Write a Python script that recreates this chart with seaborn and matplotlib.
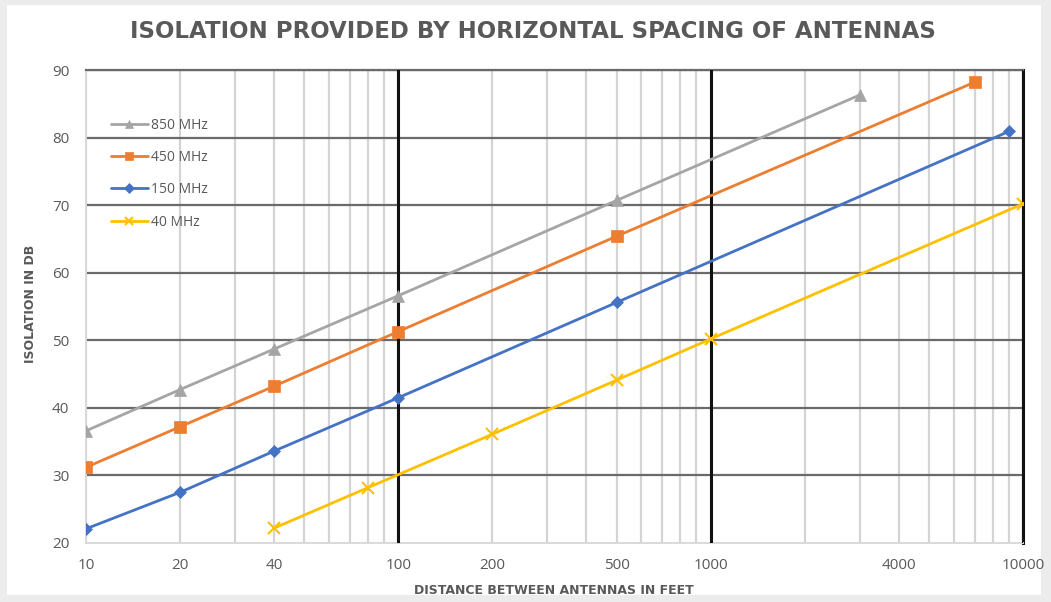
import pandas as pd
import numpy as np
import matplotlib.pyplot as plt
import matplotlib.ticker as mticker
from matplotlib.patches import Rectangle
import seaborn as sns

# data (distance in feet, isolation in dB)
dist_850 = [10, 20, 40, 100, 500, 3000]
iso_850 = [36.6, 42.7, 48.7, 56.6, 70.7, 86.3]

dist_450 = [10, 20, 40, 100, 500, 7000]
iso_450 = [31.2, 37.2, 43.2, 51.3, 65.4, 88.2]

dist_150 = [10, 20, 40, 100, 500, 9000]
iso_150 = [22.1, 27.5, 33.6, 41.5, 55.6, 80.9]

dist_40 = [40, 80, 200, 500, 1000, 10000]
iso_40 = [22.2, 28.2, 36.1, 44.1, 50.2, 70.2]

series_names = ["850 MHz", "450 MHz", "150 MHz", "40 MHz"]
series_colors = ["#A5A5A5", "#ED7D31", "#4472C4", "#FFC000"]
series_markers = ["^", "s", "D", "x"]

x_tick_vals = [10, 20, 40, 100, 200, 500, 1000, 4000, 10000]
decade_lines = [100, 1000, 10000]

frames = []
for name, d, v in zip(series_names,
                      [dist_850, dist_450, dist_150, dist_40],
                      [iso_850, iso_450, iso_150, iso_40]):
    frames.append(pd.DataFrame({"dist": d, "iso": v, "band": name}))
df = pd.concat(frames, ignore_index=True)

sns.set_style("white")
plt.rcParams["font.family"] = ["Open Sans", "DejaVu Sans"]

fig = plt.figure(figsize=(10.51, 6.02), dpi=100)
fig.patch.set_facecolor("#ececec")
fig.patches.append(Rectangle((7/1051, 7/602), 1034/1051, 590/602,
                             transform=fig.transFigure, facecolor="white",
                             edgecolor="none", zorder=-5))
ax = fig.add_axes([86/1051, 1 - 543/602, 937/1051, 473/602])
ax.set_facecolor("white")

for name, col, mk in zip(series_names, series_colors, series_markers):
    sub = df[df["band"] == name]
    ms = 8 if mk != "D" else 6
    sns.lineplot(data=sub, x="dist", y="iso", ax=ax, color=col,
                 marker=mk, markersize=ms, markeredgecolor=col,
                 markeredgewidth=1.5 if mk == "x" else 0.5,
                 linewidth=2, label=name, zorder=5)

ax.set_xscale("log")
ax.set_xlim(10, 10000)
ax.set_ylim(20, 90)
ax.set_yticks(np.arange(20, 91, 10))

ax.xaxis.set_major_locator(mticker.FixedLocator(x_tick_vals))
ax.xaxis.set_major_formatter(mticker.FuncFormatter(lambda v, p: f"{v:.0f}"))
ax.xaxis.set_minor_locator(mticker.LogLocator(base=10, subs=np.arange(1, 10)))
ax.xaxis.set_minor_formatter(mticker.NullFormatter())

ax.grid(False)
ax.xaxis.grid(True, which="both", color="#d4d4d4", linewidth=1.6, zorder=1)
ax.yaxis.grid(True, which="major", color="#6a6a6a", linewidth=1.6, zorder=2)
ax.yaxis.get_gridlines()[0].set_visible(False)  # bottom line stays light
for x in decade_lines:
    ax.axvline(x, color="#111111", linewidth=2.2, zorder=3)
ax.set_axisbelow(True)

for s in ["left", "bottom"]:
    ax.spines[s].set_color("#d9d9d9")
    ax.spines[s].set_linewidth(1.4)
ax.spines["top"].set_color("#6a6a6a")
ax.spines["top"].set_linewidth(1.6)
ax.spines["right"].set_color("#111111")
ax.spines["right"].set_linewidth(2.2)

ax.tick_params(axis="both", which="both", length=0, colors="#595959",
               labelsize=11)
ax.tick_params(axis="x", pad=11)
ax.tick_params(axis="y", pad=12)

ax.set_xlabel("")
ax.set_ylabel("")
fig.text(554/1051, 1 - 591/602, "DISTANCE BETWEEN ANTENNAS IN FEET",
         ha="center", va="center", fontsize=9, fontweight="bold",
         color="#595959", family="DejaVu Sans")
fig.text(30/1051, 1 - 304/602, "ISOLATION IN DB", ha="center", va="center",
         rotation=90, fontsize=9, fontweight="bold", color="#595959",
         family="DejaVu Sans")
fig.text(533/1051, 1 - 31/602,
         "ISOLATION PROVIDED BY HORIZONTAL SPACING OF ANTENNAS",
         ha="center", va="center", fontsize=16.5, fontweight="bold",
         color="#595959", family="DejaVu Sans")

leg = ax.legend(loc="upper left", bbox_to_anchor=(0.013, 0.926),
                frameon=False, fontsize=10, labelspacing=1.25,
                handlelength=2.7, handletextpad=0.2, labelcolor="#595959",
                markerscale=0.8)

plt.savefig("out.png", dpi=100, facecolor=fig.get_facecolor())
